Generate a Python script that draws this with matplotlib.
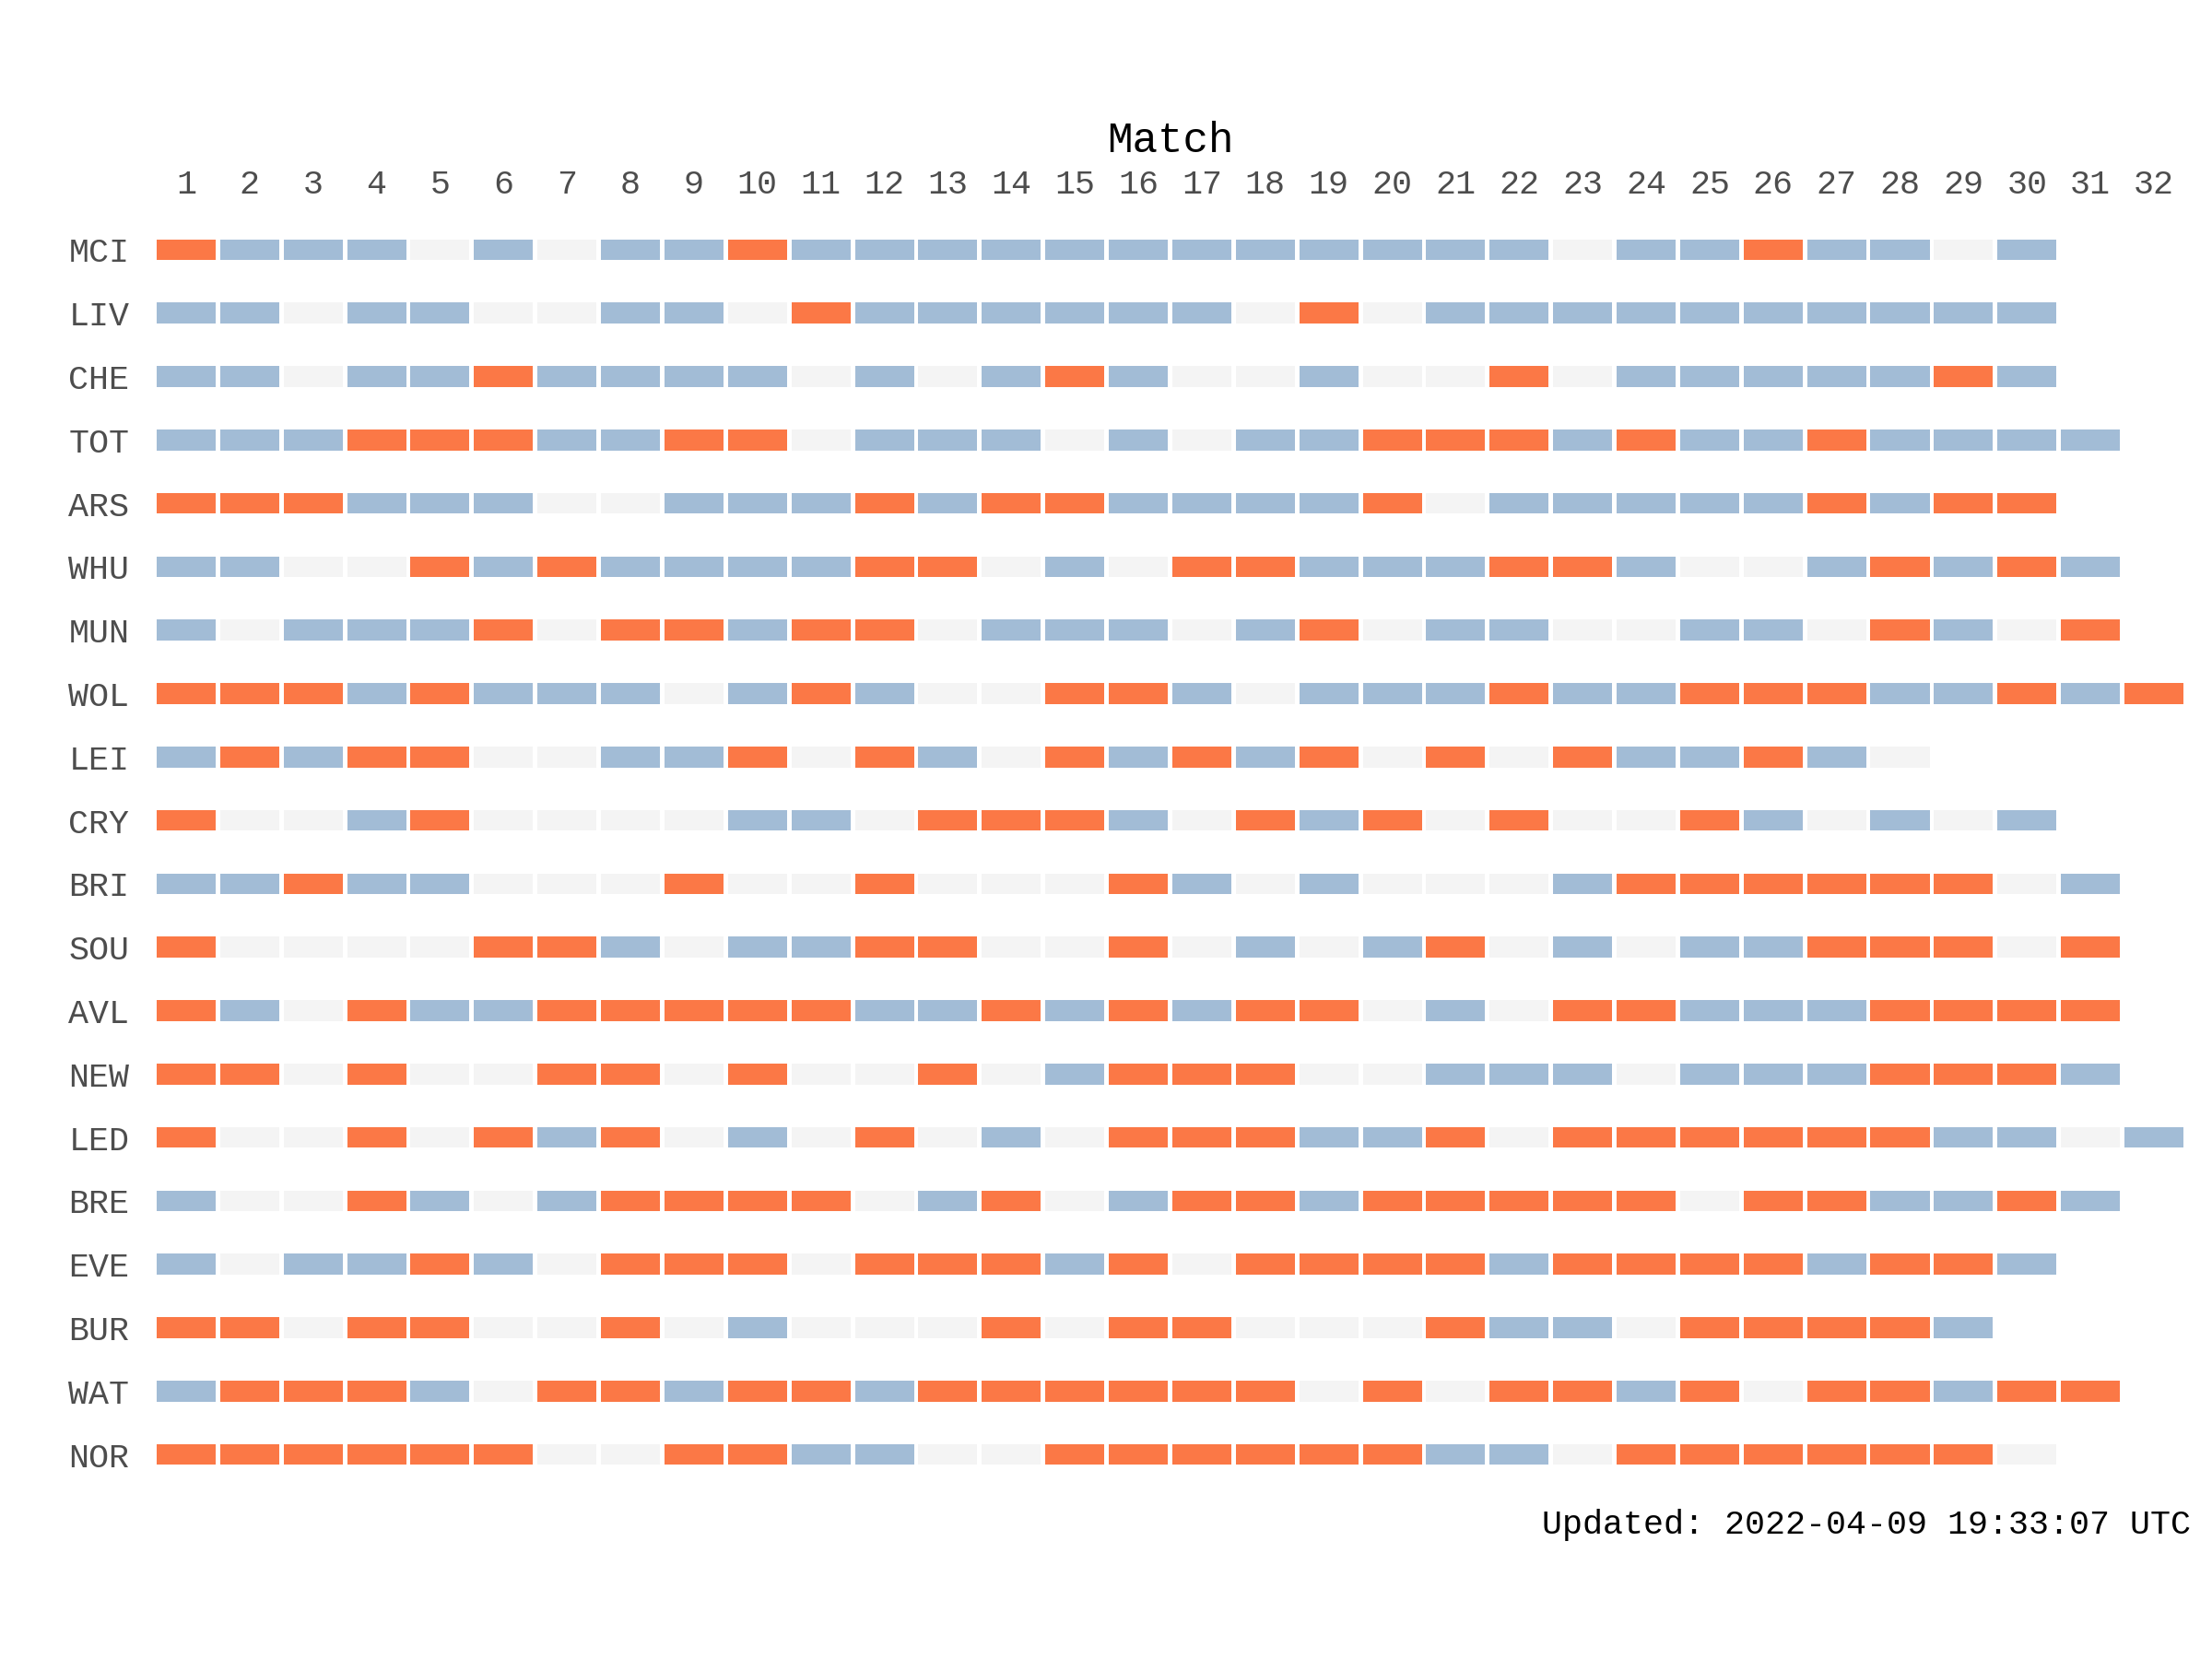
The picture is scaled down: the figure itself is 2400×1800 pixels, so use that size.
import matplotlib.pyplot as plt

# team form: W = win, L = loss, D = draw (one letter per match)
teams = ['MCI', 'LIV', 'CHE', 'TOT', 'ARS', 'WHU', 'MUN', 'WOL', 'LEI', 'CRY',
         'BRI', 'SOU', 'AVL', 'NEW', 'LED', 'BRE', 'EVE', 'BUR', 'WAT', 'NOR']
results = [
    'LWWWD WDWWL WWWWW WWWWW WWDWW LWWDW',
    'WWDWW DDWWD LWWWW WWDLD WWWWW WWWWW',
    'WWDWW LWWWW DWDWL WDDWD DLDWW WWWLW',
    'WWWLL LWWLL DWWWD WDWWL LLWLW WLWWW W',
    'LLLWW WDDWW WLWLL WWWWL DWWWW WLWLL',
    'WWDDL WLWWW WLLDW DLLWW WLLWD DWLWL W',
    'WDWWW LDLLW LLDWW WDWLD WWDDW WDLWD L',
    'LLLWL WWWDW LWDDL LWDWW WLWWL LLWWL WL',
    'WLWLL DDWWL DLWDL WLWLD LDLWW LWD',
    'LDDWL DDDDW WDLLL WDLWL DLDDL WDWDW',
    'WWLWW DDDLD DLDDD LWDWD DDWLL LLLLD W',
    'LDDDD LLWDW WLLDD LDWDW LDWDW WLLLD L',
    'LWDLW WLLLL LWWLW LWLLD WDLLW WWLLL L',
    'LLDLD DLLDL DDLDW LLLDD WWWDW WWLLL W',
    'LDDLD LWLDW DLDWD LLLWW LDLLL LLLWW DW',
    'WDDLW DWLLL LDWLD WLLWL LLLLD LLWWL W',
    'WDWWL WDLLL DLLLW LDLLL LWLLL LWLLW',
    'LLDLL DDLDW DDDLD LLDDD LWWDL LLLW',
    'WLLLW DLLWL LWLLL LLLDL DLLWL DLLWL L',
    'LLLLL LDDLL WWDDL LLLLL WWDLL LLLLD',
]
matches = list(range(1, 33))
updated = 'Updated: 2022-04-09 19:33:07 UTC'

colours = {'W': '#a2bcd6', 'L': '#fb7846', 'D': '#f4f4f4'}

plt.rcParams['font.family'] = ['Liberation Mono', 'DejaVu Sans Mono']

fig = plt.figure(figsize=(8, 6), dpi=300)
ax = fig.add_axes([0.0698, 0.1042, 0.9183, 0.7644])

for i, form in enumerate(results):
    form = form.replace(' ', '')
    xs = matches[:len(form)]
    ax.barh([i] * len(form), [0.93] * len(form),
            left=[m - 0.465 for m in xs], height=0.33,
            color=[colours[r] for r in form], linewidth=0)

ax.set_xlim(0.5, 32.5)
ax.set_ylim(len(teams) - 0.5, -0.5)

ax.xaxis.tick_top()
ax.xaxis.set_label_position('top')
ax.set_xticks(matches)
ax.set_xticklabels([str(m) for m in matches])
ax.set_yticks(range(len(teams)))
ax.set_yticklabels(teams)
ax.tick_params(axis='both', length=0, labelsize=8.8, labelcolor='#4d4d4d')
ax.tick_params(axis='x', pad=4.5)
ax.tick_params(axis='y', pad=6.5)
ax.set_xlabel('Match', fontsize=11, color='black', labelpad=4.2)

for s in ax.spines.values():
    s.set_visible(False)

fig.text(0.9905, 0.0806, updated, ha='right', va='center', fontsize=8.8, color='black')

fig.savefig('out.png', dpi=300)
